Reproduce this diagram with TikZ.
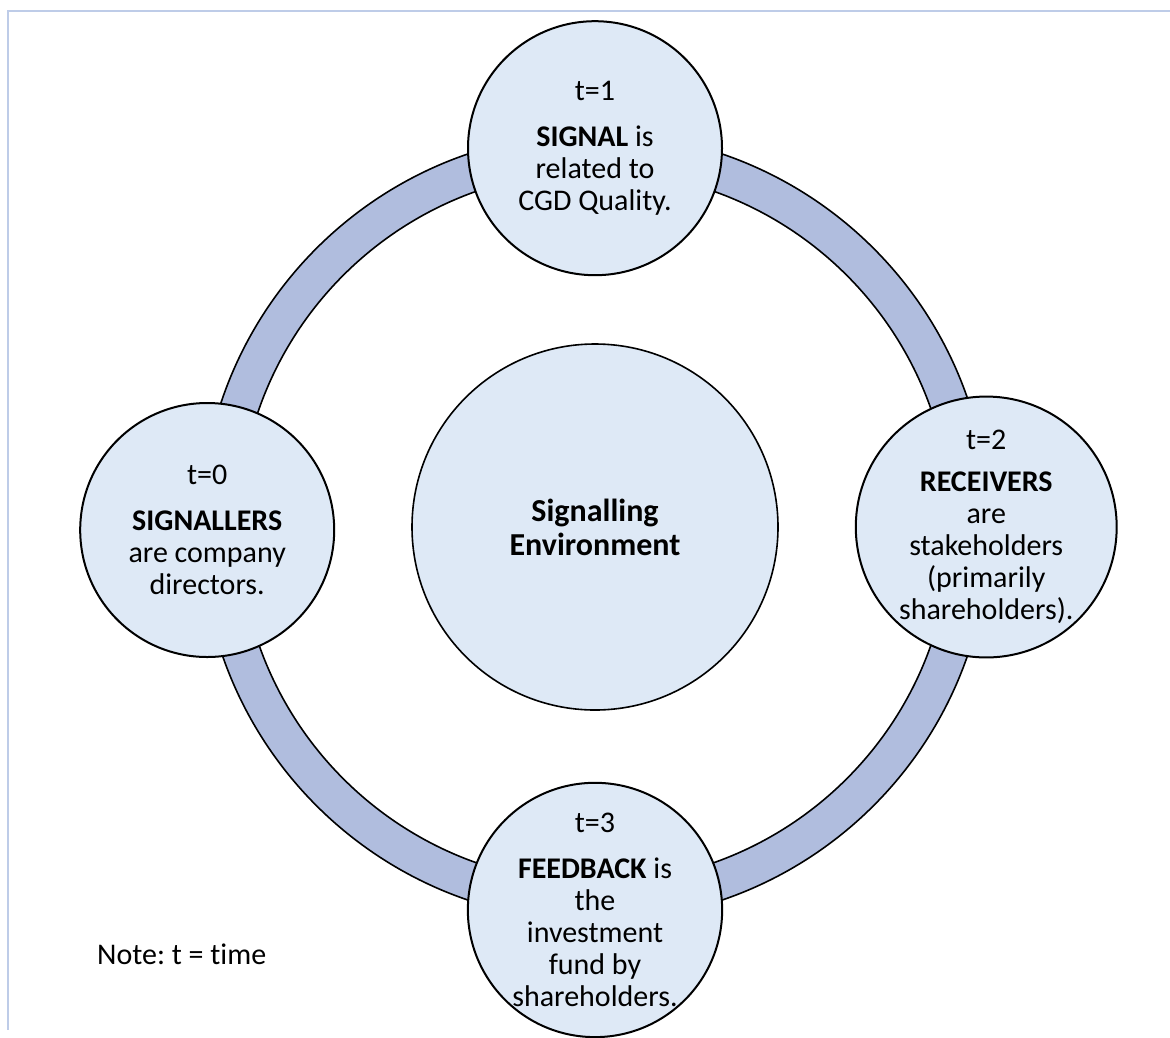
\documentclass[tikz,border=0pt]{standalone}
\usepackage{fontspec}
\setmainfont{Carlito}[Ligatures=NoCommon]
\frenchspacing
\usetikzlibrary{positioning}
\definecolor{stagefill}{RGB}{222,233,246}
\definecolor{ringfill}{RGB}{176,189,222}
\definecolor{framegray}{RGB}{190,204,232}
\tikzstyle{stage} = [circle, draw=black, line width=2pt, fill=stagefill, minimum size=254pt, inner sep=0pt, text centered, align=center, font=\fontsize{30}{32}\selectfont]
\tikzstyle{hubstage} = [stage, line width=1.6pt, minimum size=366pt, font=\fontsize{32}{34}\selectfont\bfseries]
\tikzstyle{ring} = [fill=ringfill, even odd rule]
\tikzstyle{frame} = [draw=framegray, line width=1.2pt]

\begin{document}
\begin{tikzpicture}[x=1pt, y=-1pt]
\useasboundingbox (0,0) rectangle (1170,1037);

% Page frame
\draw [frame] (1170,11) -- (8,11) -- (8,1030);

% Ring behind the stages
\coordinate (hub) at (595,527);
\fill [ring] (hub) circle[radius=394pt] (hub) circle[radius=356pt];
\draw [line width=1.6pt] (hub) circle[radius=394pt];
\draw [line width=1.6pt] (hub) circle[radius=356pt];

% Centre
\node (env) [hubstage] at (hub) {Signalling\\Environment};

% Stages t=0 to t=3
\node (signal) [stage, above=71pt of env, yshift=-4pt] {t=1\\[14pt]\textbf{SIGNAL} is\\related to\\CGD Quality.};
\node (receivers) [stage, right=76pt of env] {t=2\\[10pt]\textbf{RECEIVERS}\\are\\stakeholders\\(primarily\\shareholders).};
\node (feedback) [stage, below=71pt of env] {t=3\\[14pt]\textbf{FEEDBACK} is\\the\\investment\\fund by\\shareholders.};
\node (signallers) [stage, left=76pt of env, yshift=-3pt] {t=0\\[14pt]\textbf{SIGNALLERS}\\are company\\directors.};

% Legend
\node (note) [anchor=base west, inner sep=0pt, font=\fontsize{30}{32}\selectfont] at (97,964) {Note: t = time};

\end{tikzpicture}
\end{document}
